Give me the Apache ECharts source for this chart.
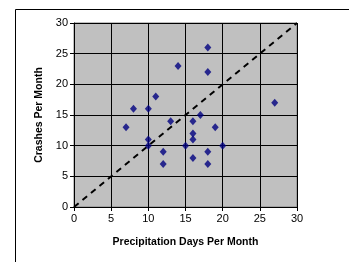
<!DOCTYPE html>
<html>
<head>
<meta charset="utf-8">
<script src="https://cdn.jsdelivr.net/npm/echarts@6/dist/echarts.min.js"></script>
<style>
  html, body { margin: 0; padding: 0; background: #fff; }
  #main { width: 349px; height: 262px; }
</style>
</head>
<body>
<div id="main"></div>
<script>
// precipitation days per month (x) vs crashes per month (y)
const precipDays = [7, 8, 10, 11, 14, 13, 10, 10, 12, 12, 15, 16, 16, 16, 16, 17, 19, 20, 18, 18, 18, 18, 27];
const crashes =    [13, 16, 16, 18, 23, 14, 11, 10, 9, 7, 10, 14, 12, 11, 8, 15, 13, 10, 9, 7, 26, 22, 17];
const refLine = [[0, 0], [30, 30]];

const points = precipDays.map((d, i) => [d, crashes[i]]);
const font = 'Liberation Sans, Arial, sans-serif';

const chart = echarts.init(document.getElementById('main'), null, { renderer: 'canvas' });

chart.setOption({
  animation: false,
  backgroundColor: '#fff',
  grid: {
    left: 74, right: 52, top: 23, bottom: 55,
    show: true,
    backgroundColor: '#c0c0c0',
    borderColor: '#808080',
    borderWidth: 1
  },
  graphic: [{
    type: 'rect',
    shape: { x: 15.5, y: 9.5, width: 400, height: 300 },
    style: { fill: 'none', stroke: '#000', lineWidth: 1 },
    z: -1
  }],
  xAxis: {
    type: 'value', min: 0, max: 30, interval: 5,
    name: 'Precipitation Days Per Month',
    nameLocation: 'middle', nameGap: 30,
    nameTextStyle: { fontFamily: font, fontSize: 10.5, fontWeight: 'bold', color: '#000' },
    axisLine: { onZero: false, lineStyle: { color: '#000', width: 1 } },
    axisTick: { show: true, length: 4, lineStyle: { color: '#000' } },
    axisLabel: { fontFamily: font, fontSize: 11, color: '#000', margin: 6 },
    splitLine: { lineStyle: { color: '#000', width: 1 } }
  },
  yAxis: {
    type: 'value', min: 0, max: 30, interval: 5,
    name: 'Crashes Per Month',
    nameLocation: 'middle', nameGap: 29,
    nameTextStyle: { fontFamily: font, fontSize: 10.5, fontWeight: 'bold', color: '#000' },
    axisLine: { show: true, onZero: false, lineStyle: { color: '#000', width: 1 } },
    axisTick: { show: true, length: 4, lineStyle: { color: '#000' } },
    axisLabel: { fontFamily: font, fontSize: 11, color: '#000', margin: 6 },
    splitLine: { lineStyle: { color: '#000', width: 1 } }
  },
  series: [
    {
      type: 'line',
      data: refLine,
      symbol: 'none',
      lineStyle: { color: '#000', width: 2, type: [6, 5] },
      z: 2
    },
    {
      type: 'scatter',
      data: points,
      symbol: 'diamond',
      symbolSize: [7, 8],
      itemStyle: { color: '#000080' },
      z: 3
    }
  ]
});
</script>
</body>
</html>
